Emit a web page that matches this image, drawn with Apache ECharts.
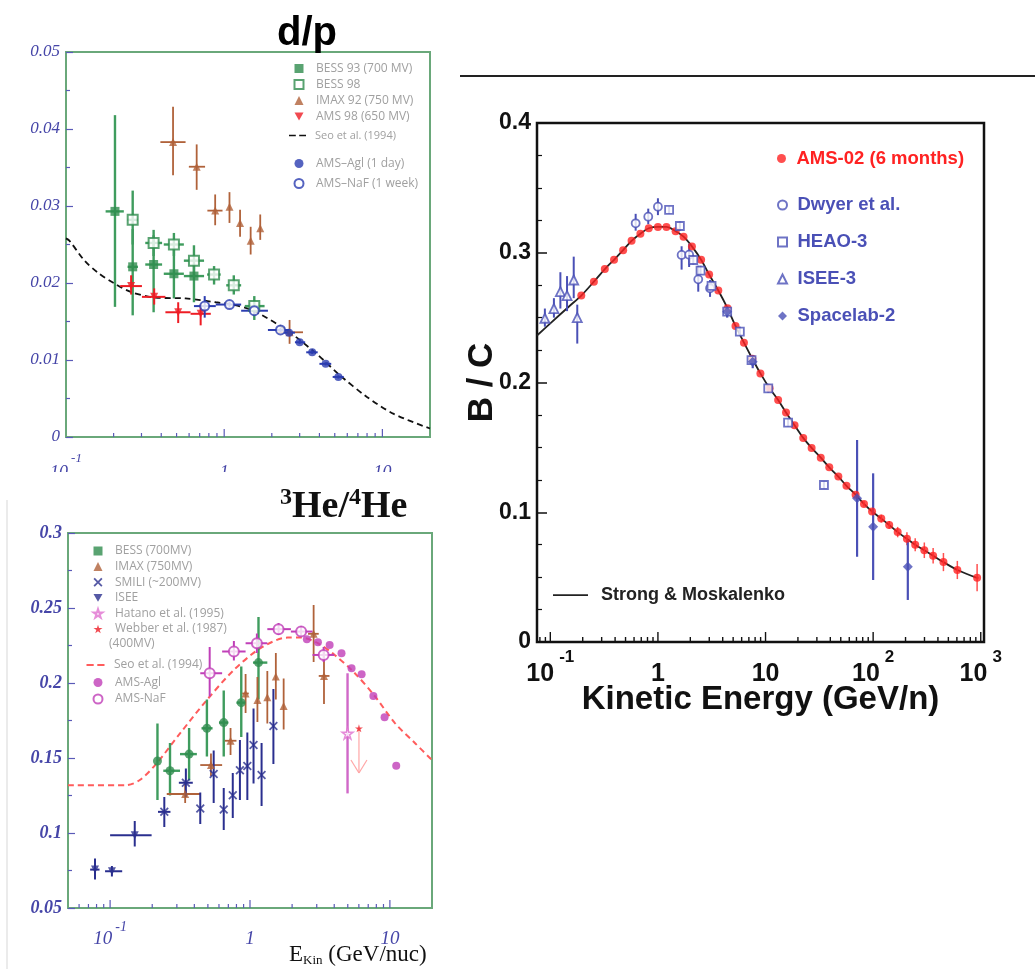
<!DOCTYPE html>
<html>
<head>
<meta charset="utf-8">
<script src="https://cdn.jsdelivr.net/npm/echarts@6.0.0/dist/echarts.min.js"></script>
<style>
html,body{margin:0;padding:0;background:#fff;}
#c{width:1035px;height:969px;}
</style>
</head>
<body>
<div id="c"></div>
<script>
// ===================== DATA =====================
// rows: [E (GeV/n), ratio, errLow, errHigh, Emin, Emax]

// ---- d/p panel ----
const dpBess93 = [
  [0.204, 0.0293, 0.0169, 0.0418, 0.178, 0.232],
  [0.264, 0.0221, 0.0158, 0.0270, 0.245, 0.285],
  [0.358, 0.0224, 0.0162, 0.0262, 0.317, 0.405],
  [0.481, 0.0212, 0.0180, 0.0245, 0.415, 0.556],
  [0.644, 0.0209, 0.0175, 0.0225, 0.556, 0.746]
];
const dpBess98 = [
  [0.264, 0.0282, 0.0250, 0.0320, 0.245, 0.285],
  [0.358, 0.0252, 0.0235, 0.0269, 0.317, 0.405],
  [0.481, 0.0250, 0.0235, 0.0265, 0.415, 0.556],
  [0.644, 0.0229, 0.0210, 0.0249, 0.556, 0.746],
  [0.863, 0.0211, 0.0198, 0.0222, 0.780, 0.950],
  [1.15, 0.0197, 0.0185, 0.0210, 1.03, 1.28],
  [1.55, 0.0170, 0.0152, 0.0183, 1.35, 1.80]
];
const dpImax92 = [
  [0.475, 0.0383, 0.0340, 0.0429, 0.395, 0.570],
  [0.670, 0.0351, 0.0321, 0.0380, 0.598, 0.757],
  [0.877, 0.0294, 0.0275, 0.0315, 0.783, 0.976],
  [1.08, 0.0299, 0.0278, 0.0318, 1.08, 1.08],
  [1.26, 0.0278, 0.0260, 0.0295, 1.26, 1.26],
  [1.47, 0.0255, 0.0237, 0.0273, 1.47, 1.47],
  [1.69, 0.0271, 0.0256, 0.0289, 1.69, 1.69],
  [2.59, 0.0136, 0.0121, 0.0152, 2.19, 3.15]
];
const dpAms98 = [
  [0.258, 0.0196, 0.0185, 0.0210, 0.220, 0.302],
  [0.361, 0.0182, 0.0172, 0.0193, 0.302, 0.425],
  [0.512, 0.0162, 0.0148, 0.0175, 0.425, 0.613],
  [0.710, 0.0160, 0.0145, 0.0172, 0.613, 0.823]
];
const dpAmsNaf = [
  [0.753, 0.0170, 0.0155, 0.0183, 0.644, 0.885],
  [1.08, 0.0172, 0.0168, 0.0176, 0.885, 1.28],
  [1.55, 0.0164, 0.0160, 0.0168, 1.28, 1.89],
  [2.27, 0.0139, 0.0136, 0.0142, 1.89, 2.60]
];
const dpAmsAgl = [
  [2.57, 0.01355, 0.0133, 0.0138, 2.35, 2.80],
  [3.00, 0.0123, 0.0121, 0.0125, 2.80, 3.25],
  [3.60, 0.0110, 0.0108, 0.0112, 3.30, 3.90],
  [4.38, 0.0095, 0.0093, 0.0097, 4.00, 4.75],
  [5.27, 0.0078, 0.0076, 0.0080, 4.85, 5.70]
];
const dpSeoE = [0.1, 0.105, 0.131, 0.16, 0.204, 0.26, 0.367, 0.57, 0.885, 1.13, 1.51, 2.47, 3.84, 5.4, 7.99, 11.8, 20];
const dpSeoR = [0.0258, 0.0255, 0.0229, 0.0213, 0.0199, 0.0188, 0.0181, 0.0180, 0.0175, 0.0172, 0.01645, 0.0139, 0.0108, 0.0080, 0.0052, 0.0030, 0.0011];

// ---- 3He/4He panel ----
const heBess = [
  [0.218, 0.148, 0.122, 0.173, 0.218, 0.218],
  [0.268, 0.1415, 0.125, 0.160, 0.240, 0.316],
  [0.367, 0.1526, 0.135, 0.170, 0.316, 0.417],
  [0.492, 0.1698, 0.151, 0.189, 0.450, 0.540],
  [0.649, 0.1736, 0.151, 0.195, 0.600, 0.700],
  [0.866, 0.1869, 0.164, 0.211, 0.800, 0.930],
  [1.15, 0.2136, 0.189, 0.244, 1.05, 1.33]
];
const heImax = [
  [0.344, 0.126, 0.120, 0.133, 0.254, 0.441],
  [0.526, 0.1453, 0.138, 0.153, 0.441, 0.632],
  [0.726, 0.1615, 0.152, 0.170, 0.660, 0.800],
  [0.93, 0.193, 0.180, 0.206, 0.880, 0.980],
  [1.13, 0.1887, 0.174, 0.204, 1.13, 1.13],
  [1.33, 0.1905, 0.173, 0.208, 1.33, 1.33],
  [1.53, 0.2043, 0.189, 0.220, 1.53, 1.53],
  [1.74, 0.1847, 0.169, 0.203, 1.74, 1.74],
  [2.85, 0.2328, 0.214, 0.252, 2.60, 3.10],
  [3.38, 0.2047, 0.186, 0.222, 3.10, 3.70]
];
const heIsee = [
  [0.078, 0.0756, 0.069, 0.083, 0.072, 0.084],
  [0.103, 0.0745, 0.071, 0.078, 0.092, 0.122],
  [0.150, 0.0985, 0.091, 0.108, 0.100, 0.198]
];
const heSmili = [
  [0.244, 0.1141, 0.104, 0.124, 0.220, 0.270],
  [0.348, 0.1335, 0.124, 0.143, 0.310, 0.390],
  [0.441, 0.1163, 0.106, 0.127, 0.441, 0.441],
  [0.55, 0.1393, 0.120, 0.155, 0.55, 0.55],
  [0.649, 0.1157, 0.102, 0.130, 0.649, 0.649],
  [0.753, 0.1252, 0.110, 0.140, 0.753, 0.753],
  [0.847, 0.1419, 0.122, 0.162, 0.847, 0.847],
  [0.957, 0.1446, 0.122, 0.167, 0.957, 0.957],
  [1.06, 0.1586, 0.133, 0.183, 1.06, 1.06],
  [1.21, 0.1386, 0.118, 0.160, 1.21, 1.21],
  [1.47, 0.1713, 0.146, 0.196, 1.47, 1.47]
];
const heHatano = [[4.98, 0.1664, 0.1264, 0.2065]];
const heWebber = [[6.01, 0.1698, 0.1400]]; // [E, value, upper-limit arrow end]
const heAmsNaf = [
  [0.515, 0.2065, 0.191, 0.224, 0.441, 0.632],
  [0.767, 0.221, 0.215, 0.228, 0.632, 0.930],
  [1.12, 0.2265, 0.220, 0.233, 0.930, 1.33],
  [1.60, 0.2359, 0.232, 0.240, 1.33, 1.96],
  [2.32, 0.2343, 0.231, 0.238, 1.96, 2.80],
  [3.36, 0.2187, 0.214, 0.224, 2.80, 4.00]
];
const heAmsAgl = [
  [2.55, 0.2292], [3.06, 0.2272], [3.71, 0.2254], [4.51, 0.2199], [5.32, 0.2098],
  [6.28, 0.2058], [7.62, 0.1914], [9.16, 0.1771], [11.1, 0.1448]
];
const heSeoE = [0.05, 0.130, 0.163, 0.215, 0.316, 0.492, 0.767, 1.19, 1.86, 2.32, 3.06, 4.03, 5.62, 7.84, 10.9, 15.2, 20];
const heSeoR = [0.1319, 0.1319, 0.1353, 0.1464, 0.1664, 0.1887, 0.2087, 0.2232, 0.2303, 0.2303, 0.2265, 0.2187, 0.2065, 0.191, 0.1731, 0.1597, 0.1486];

// ---- B/C panel ----
const bcAmsE = [0.194, 0.254, 0.321, 0.391, 0.475, 0.569, 0.687, 0.822, 1.0, 1.2, 1.46, 1.73, 2.07, 2.52, 2.99, 3.64, 4.43, 5.26, 6.3, 7.54, 8.96, 10.9, 13.1, 15.5, 18.6, 22.4, 26.8, 32.6, 39.1, 47.5, 56.5, 68.7, 82.2, 97.7, 119, 141, 169, 206, 246, 299, 361, 450, 606, 925];
const bcAmsR = [0.267, 0.2777, 0.2874, 0.2946, 0.302, 0.3092, 0.3147, 0.3189, 0.3199, 0.3199, 0.3166, 0.3124, 0.3049, 0.2946, 0.2832, 0.2709, 0.2573, 0.2436, 0.2307, 0.2183, 0.207, 0.1956, 0.1865, 0.1768, 0.1671, 0.1573, 0.1496, 0.1421, 0.1346, 0.1275, 0.1204, 0.1135, 0.1064, 0.1006, 0.0951, 0.0902, 0.0847, 0.0795, 0.0749, 0.0707, 0.0665, 0.0616, 0.0555, 0.0496];
const bcAmsErr = [0, 0, 0, 0, 0, 0, 0, 0, 0, 0, 0, 0, 0, 0, 0, 0, 0, 0, 0, 0, 0, 0, 0, 0, 0, 0, 0, 0, 0, 0, 0, 0, 0.002, 0.002, 0.003, 0.003, 0.004, 0.005, 0.005, 0.006, 0.006, 0.007, 0.007, 0.0105];
const bcSmE = [0.0752, 0.1, 0.15, 0.194, 0.254, 0.321, 0.391, 0.475, 0.569, 0.687, 0.822, 1.0, 1.2, 1.46, 1.73, 2.07, 2.52, 2.99, 3.64, 4.43, 5.26, 6.3, 7.54, 8.96, 10.9, 13.1, 15.5, 18.6, 22.4, 26.8, 32.6, 39.1, 47.5, 56.5, 68.7, 82.2, 97.7, 119, 141, 169, 206, 246, 299, 361, 450, 606, 950];
const bcSmR = [0.2362, 0.2456, 0.2588, 0.267, 0.2777, 0.2874, 0.2946, 0.302, 0.3092, 0.3147, 0.3189, 0.3199, 0.3199, 0.3166, 0.3124, 0.3049, 0.2946, 0.2832, 0.2709, 0.2573, 0.2436, 0.2307, 0.2183, 0.207, 0.1956, 0.1865, 0.1768, 0.1671, 0.1573, 0.1496, 0.1421, 0.1346, 0.1275, 0.1204, 0.1135, 0.1064, 0.1006, 0.0951, 0.0902, 0.0847, 0.0795, 0.0749, 0.0707, 0.0665, 0.0616, 0.0555, 0.049];
const bcIsee3 = [
  [0.089, 0.2495, 0.243, 0.257],
  [0.108, 0.257, 0.250, 0.265],
  [0.124, 0.270, 0.257, 0.285],
  [0.143, 0.267, 0.255, 0.282],
  [0.165, 0.279, 0.265, 0.297],
  [0.178, 0.250, 0.230, 0.260]
];
const bcDwyer = [
  [0.621, 0.3227, 0.317, 0.330],
  [0.813, 0.3278, 0.322, 0.334],
  [1.0, 0.3355, 0.329, 0.342],
  [1.66, 0.2983, 0.287, 0.305],
  [1.95, 0.2985, 0.289, 0.307],
  [2.37, 0.2795, 0.270, 0.290],
  [3.05, 0.2726, 0.266, 0.279]
];
const bcHeao3 = [
  [1.27, 0.333, 0.330, 0.336],
  [1.6, 0.3206, 0.317, 0.324],
  [2.13, 0.2944, 0.291, 0.298],
  [2.49, 0.2862, 0.283, 0.290],
  [3.15, 0.2744, 0.271, 0.278],
  [4.4, 0.2546, 0.251, 0.258],
  [5.77, 0.2392, 0.236, 0.243],
  [7.41, 0.2173, 0.214, 0.221],
  [10.6, 0.1955, 0.192, 0.199],
  [16.2, 0.169, 0.166, 0.172],
  [34.9, 0.121, 0.118, 0.124]
];
const bcSpacelab2 = [
  [4.4, 0.2546, 0.250, 0.259],
  [7.6, 0.216, 0.211, 0.221],
  [70.9, 0.1107, 0.0657, 0.1557],
  [100, 0.0889, 0.0478, 0.130],
  [210, 0.058, 0.0324, 0.0786]
];

// ===================== STYLE =====================
const SERIF = "'Liberation Serif', 'DejaVu Serif', serif";
const SANS = "'Liberation Sans', Arial, sans-serif";
const LEG = "'Open Sans', 'DejaVu Sans', sans-serif";
const LBL = '#4646a8';
const GREEN = '#2f8c4e', GREEN_E = '#3f9c5e';
const BROWN = '#b0623a';
const RED = '#ee1c24';
const BLUE = '#2b3cb0';
const NAVY = '#2a2f8f';
const MAG = '#c03fb8';
const PINK = '#ff5c5c';
const BC_BLUE = '#4a50b6';
const BC_RED = '#ff2222';
const STAR = 'path://M50,0 L61,35 L98,35 L68,57 L79,91 L50,70 L21,91 L32,57 L2,35 L39,35 Z';
const XMARK = 'path://M0,14 L14,0 L50,36 L86,0 L100,14 L64,50 L100,86 L86,100 L50,64 L14,100 L0,86 L36,50 Z';
const DOWN_TRI = 'path://M0,0 L100,0 L50,87 Z';
const DASH_ICON = 'path://M0,0 L40,0 L40,10 L0,10 Z M60,0 L100,0 L100,10 L60,10 Z';
const LINE_ICON = 'path://M0,0 L100,0 L100,5 L0,5 Z';

// ===================== HELPERS =====================
function pts(arr) { return arr.map(d => [d[0], d[1]]); }
function zip(a, b) { return a.map((v, i) => [v, b[i]]); }

function errBars(gi, arr, color, lw) {
  return {
    type: 'custom', xAxisIndex: gi, yAxisIndex: gi, z: 3, silent: true, clip: false,
    renderItem(params, api) {
      const x = api.value(0), y = api.value(1), lo = api.value(2), hi = api.value(3);
      const xl = api.value(4), xh = api.value(5);
      const ch = [];
      if (hi > lo) {
        const a = api.coord([x, lo]), b = api.coord([x, hi]);
        ch.push({ type: 'line', shape: { x1: a[0], y1: a[1], x2: b[0], y2: b[1] }, style: { stroke: color, lineWidth: lw } });
      }
      if (xh > xl) {
        const a = api.coord([xl, y]), b = api.coord([xh, y]);
        ch.push({ type: 'line', shape: { x1: a[0], y1: a[1], x2: b[0], y2: b[1] }, style: { stroke: color, lineWidth: lw } });
      }
      return { type: 'group', children: ch };
    },
    data: arr.map(d => [d[0], d[1], d.length > 2 ? d[2] : d[1], d.length > 3 ? d[3] : d[1], d.length > 4 ? d[4] : d[0], d.length > 5 ? d[5] : d[0]])
  };
}

function scat(name, gi, arr, symbol, size, itemStyle, extra) {
  return Object.assign({
    type: 'scatter', name, xAxisIndex: gi, yAxisIndex: gi, symbol, symbolSize: size,
    itemStyle, z: 5, silent: true, data: pts(arr)
  }, extra || {});
}

function logTicks(gi, min, max, yBase, color, lenMajor, lenMinor, lw) {
  const data = [];
  for (let e = Math.floor(Math.log10(min)); e <= Math.ceil(Math.log10(max)); e++) {
    for (let m = 1; m <= 9; m++) {
      const v = m * Math.pow(10, e);
      if (v > min * 1.0001 && v < max * 0.9999) data.push([v, yBase, m === 1 ? 1 : 0]);
    }
  }
  return {
    type: 'custom', xAxisIndex: gi, yAxisIndex: gi, silent: true, z: 4, clip: false,
    renderItem(params, api) {
      const p = api.coord([api.value(0), api.value(1)]);
      const L = api.value(2) ? lenMajor : lenMinor;
      return { type: 'line', shape: { x1: p[0], y1: p[1], x2: p[0], y2: p[1] - L }, style: { stroke: color, lineWidth: lw } };
    },
    data
  };
}

function logLabel(v) {
  const lg = Math.log10(v);
  const e = Math.round(lg);
  if (Math.abs(lg - e) > 1e-6) return '';
  if (e === 0) return '{b|1}';
  if (e === 1) return '{b|10}';
  return '{b|10}{s|' + e + '}';
}

// ===================== OPTION =====================
const chart = echarts.init(document.getElementById('c'), null, { renderer: 'canvas', width: 1035, height: 969 });

const leftYLabel = { color: LBL, fontFamily: SERIF, fontStyle: 'italic', fontSize: 17, margin: 6 };
const grayLeg = { color: '#a0a0a0', fontFamily: LEG, fontSize: 12, lineHeight: 13 };

const option = {
  animation: false,
  backgroundColor: '#fff',
  title: [
    { text: 'd/p', left: 277, top: 14, padding: 0,
      textStyle: { fontFamily: SANS, fontSize: 40, fontWeight: 'bold', color: '#000' } },
    { text: '{s|3}{h|He/}{s|4}{h|He}', left: 280, top: 486, padding: 0,
      textStyle: { rich: {
        s: { fontFamily: SERIF, fontSize: 24, lineHeight: 16, verticalAlign: 'top', color: '#111' },
        h: { fontFamily: SERIF, fontSize: 38, lineHeight: 40, verticalAlign: 'bottom', color: '#111' }
      } } }
  ],
  grid: [
    { left: 66, top: 52, width: 364, height: 385, show: true, borderColor: '#6aa87a', borderWidth: 2, backgroundColor: '#fff', containLabel: false, outerBoundsMode: 'none' },
    { left: 68, top: 533, width: 364, height: 375, show: true, borderColor: '#6aa87a', borderWidth: 2, backgroundColor: '#fff', containLabel: false, outerBoundsMode: 'none' },
    { left: 537, top: 123, width: 447, height: 519, show: true, borderColor: '#111', borderWidth: 2.5, backgroundColor: '#fff', containLabel: false, outerBoundsMode: 'none' }
  ],
  xAxis: [
    { gridIndex: 0, type: 'log', logBase: 10, min: 0.1, max: 20,
      axisLine: { show: false }, axisTick: { show: false }, splitLine: { show: false },
      axisLabel: { formatter: logLabel, margin: 15, rich: {
        b: { fontFamily: SERIF, fontStyle: 'italic', fontSize: 18, color: LBL, lineHeight: 30, verticalAlign: 'bottom' },
        s: { fontFamily: SERIF, fontStyle: 'italic', fontSize: 13, color: LBL, lineHeight: 10, verticalAlign: 'top', padding: [0, 0, 0, 3] }
      } } },
    { gridIndex: 1, type: 'log', logBase: 10, min: 0.05, max: 20,
      axisLine: { show: false }, axisTick: { show: false }, splitLine: { show: false },
      axisLabel: { formatter: logLabel, margin: 12, rich: {
        b: { fontFamily: SERIF, fontStyle: 'italic', fontSize: 19, color: LBL, lineHeight: 28, verticalAlign: 'bottom' },
        s: { fontFamily: SERIF, fontStyle: 'italic', fontSize: 14, color: LBL, lineHeight: 10, verticalAlign: 'top', padding: [0, 0, 0, 3] }
      } } },
    { gridIndex: 2, type: 'log', logBase: 10, min: 0.0752, max: 1072,
      axisLine: { show: false }, axisTick: { show: false }, splitLine: { show: false },
      name: 'Kinetic Energy (GeV/n)', nameLocation: 'middle', nameGap: 41, nameMoveOverlap: false,
      nameTextStyle: { fontFamily: SANS, fontSize: 33, fontWeight: 'bold', color: '#111' },
      axisLabel: { formatter: logLabel, margin: 1, rich: {
        b: { fontFamily: SANS, fontWeight: 'bold', fontSize: 25, color: '#111', lineHeight: 44, verticalAlign: 'bottom' },
        s: { fontFamily: SANS, fontWeight: 'bold', fontSize: 17, color: '#111', lineHeight: 20, verticalAlign: 'top', padding: [6, 0, 0, 5] }
      } } }
  ],
  yAxis: [
    { gridIndex: 0, type: 'value', min: 0, max: 0.05, interval: 0.01,
      axisLine: { show: false }, splitLine: { show: false },
      axisTick: { show: true, inside: true, length: 7, lineStyle: { color: '#5a5ab8', width: 1.2 } },
      minorTick: { show: true, splitNumber: 2, length: 4, lineStyle: { color: '#5a5ab8', width: 1.2 } },
      axisLabel: Object.assign({ formatter: v => v === 0 ? '0' : v.toFixed(2) }, leftYLabel) },
    { gridIndex: 1, type: 'value', min: 0.05, max: 0.3, interval: 0.05,
      axisLine: { show: false }, splitLine: { show: false },
      axisTick: { show: true, inside: true, length: 7, lineStyle: { color: '#5a5ab8', width: 1.2 } },
      minorTick: { show: true, splitNumber: 2, length: 4, lineStyle: { color: '#5a5ab8', width: 1.2 } },
      axisLabel: Object.assign({ formatter: v => String(+v.toFixed(2)) }, leftYLabel, { fontSize: 18, fontWeight: 'bold' }) },
    { gridIndex: 2, type: 'value', min: 0, max: 0.4, interval: 0.1,
      axisLine: { show: false }, splitLine: { show: false },
      name: 'B / C', nameLocation: 'middle', nameGap: 37, nameRotate: 90, nameMoveOverlap: false,
      nameTextStyle: { fontFamily: SANS, fontSize: 35, fontWeight: 'bold', color: '#111' },
      axisTick: { show: true, inside: true, length: 10, lineStyle: { color: '#111', width: 1.5 } },
      minorTick: { show: true, splitNumber: 4, length: 5, lineStyle: { color: '#111', width: 1.2 } },
      axisLabel: { formatter: v => v === 0 ? '0' : String(+v.toFixed(1)), fontFamily: SANS, fontWeight: 'bold', fontSize: 23, color: '#111', margin: 6 } }
  ],
  legend: [
    { left: 288.5, top: 57, orient: 'vertical', itemWidth: 9, itemHeight: 9, itemGap: 3, selectedMode: false,
      textStyle: Object.assign({ padding: [0, 0, 0, 7.5] }, grayLeg),
      data: ['BESS 93 (700 MV)', 'BESS 98', 'IMAX 92 (750 MV)', { name: 'AMS 98 (650 MV)', icon: DOWN_TRI }] },
    { left: 284, top: 124, orient: 'vertical', itemWidth: 17, itemHeight: 9, selectedMode: false,
      textStyle: Object.assign({ padding: [0, 0, 0, 4] }, grayLeg, { fontSize: 11 }),
      data: [{ name: 'Seo et al. (1994)', icon: DASH_ICON }] },
    { left: 288.5, top: 152, orient: 'vertical', itemWidth: 9, itemHeight: 9, itemGap: 7, selectedMode: false,
      textStyle: Object.assign({ padding: [0, 0, 0, 7.5] }, grayLeg),
      data: ['AMS–Agl (1 day)', 'AMS–NaF (1 week)'] },
    { left: 87.5, top: 539.5, orient: 'vertical', itemWidth: 9, itemHeight: 9, itemGap: 2.6, selectedMode: false,
      textStyle: Object.assign({ padding: [0, 0, 0, 7.5] }, grayLeg),
      data: [{ name: 'BESS (700MV)', icon: 'rect' }, 'IMAX (750MV)', 'SMILI (~200MV)', { name: 'ISEE', icon: DOWN_TRI }, 'Hatano et al. (1995)', 'Webber et al. (1987)'] },
    { left: 81.5, top: 653.5, orient: 'vertical', itemWidth: 18, itemHeight: 9, selectedMode: false,
      textStyle: Object.assign({ padding: [0, 0, 0, 4.5] }, grayLeg),
      data: [{ name: 'Seo et al. (1994) ', icon: DASH_ICON }] },
    { left: 87.5, top: 671, orient: 'vertical', itemWidth: 9, itemHeight: 9, itemGap: 3.5, selectedMode: false,
      textStyle: Object.assign({ padding: [0, 0, 0, 7.5] }, grayLeg),
      data: ['AMS-Agl', 'AMS-NaF'] },
    { left: 772, top: 144, orient: 'vertical', itemWidth: 9, itemHeight: 9, selectedMode: false,
      textStyle: { color: BC_RED, fontFamily: SANS, fontWeight: 'bold', fontSize: 18.5, padding: [0, 0, 0, 5.5] },
      data: ['AMS-02 (6 months)'] },
    { left: 772, top: 190.5, orient: 'vertical', itemWidth: 9, itemHeight: 9, itemGap: 18, selectedMode: false,
      textStyle: { color: BC_BLUE, fontFamily: SANS, fontWeight: 'bold', fontSize: 18.5, padding: [0, 0, 0, 5.5] },
      data: ['Dwyer et al.', 'HEAO-3', 'ISEE-3', 'Spacelab-2'] },
    { left: 548, top: 581, orient: 'vertical', itemWidth: 35, itemHeight: 10, selectedMode: false,
      textStyle: { color: '#222', fontFamily: SANS, fontWeight: 'bold', fontSize: 18, padding: [0, 0, 0, 8] },
      data: [{ name: 'Strong & Moskalenko', icon: LINE_ICON }] }
  ],
  graphic: [
    { type: 'line', shape: { x1: 460, y1: 76, x2: 1035, y2: 76 }, style: { stroke: '#222', lineWidth: 2 } },
    { type: 'line', shape: { x1: 7, y1: 500, x2: 7, y2: 969 }, style: { stroke: '#e4e4e4', lineWidth: 1.5 } },
    { type: 'rect', shape: { x: 0, y: 472, width: 445, height: 9 }, style: { fill: '#fff' }, z: 100 },
    { type: 'text', left: 109, top: 638, style: { text: '(400MV)', fill: '#a0a0a0', fontFamily: LEG, fontSize: 12 } },
    { type: 'text', left: 289, top: 943, z: 100, style: {
        text: '{e|E}{k|Kin}{e| (GeV/nuc)}',
        rich: {
          e: { fontFamily: SERIF, fontSize: 23, lineHeight: 24, verticalAlign: 'top', fill: '#111', color: '#111' },
          k: { fontFamily: SERIF, fontSize: 13, lineHeight: 7, verticalAlign: 'bottom', fill: '#111', color: '#111' }
        } } }
  ],
  series: [
    // ---------- d/p ----------
    logTicks(0, 0.1, 20, 0, '#5a5ab8', 8, 4, 1.2),
    { type: 'line', name: 'Seo et al. (1994)', xAxisIndex: 0, yAxisIndex: 0, data: zip(dpSeoE, dpSeoR),
      smooth: 0.3, symbol: 'none', showSymbol: false, z: 2, silent: true,
      lineStyle: { color: '#111', width: 1.8, type: [6, 4] }, itemStyle: { color: '#111' } },
    errBars(0, dpBess93, GREEN_E, 2.4),
    errBars(0, dpBess98, GREEN_E, 2.4),
    errBars(0, dpImax92, BROWN, 1.8),
    errBars(0, dpAms98, RED, 2),
    errBars(0, dpAmsNaf, BLUE, 2),
    errBars(0, dpAmsAgl, BLUE, 2),
    scat('BESS 93 (700 MV)', 0, dpBess93, 'rect', 9, { color: GREEN }),
    scat('BESS 98', 0, dpBess98, 'rect', 10, { color: '#fff', borderColor: GREEN, borderWidth: 2 }),
    scat('IMAX 92 (750 MV)', 0, dpImax92, 'triangle', 8, { color: BROWN }),
    scat('AMS 98 (650 MV)', 0, dpAms98, 'triangle', 8, { color: RED }, { symbolRotate: 180 }),
    scat('AMS–Agl (1 day)', 0, dpAmsAgl, 'circle', 8, { color: BLUE }),
    scat('AMS–NaF (1 week)', 0, dpAmsNaf, 'circle', 9, { color: '#fff', borderColor: BLUE, borderWidth: 2 }),

    // ---------- 3He/4He ----------
    logTicks(1, 0.05, 20, 0.05, '#5a5ab8', 8, 4, 1.2),
    { type: 'line', name: 'Seo et al. (1994) ', xAxisIndex: 1, yAxisIndex: 1, data: zip(heSeoE, heSeoR),
      smooth: 0.3, symbol: 'none', showSymbol: false, z: 2, silent: true,
      lineStyle: { color: PINK, width: 2, type: [6, 4] }, itemStyle: { color: PINK } },
    errBars(1, heBess, GREEN_E, 2.4),
    errBars(1, heImax, BROWN, 1.8),
    errBars(1, heIsee, NAVY, 2),
    errBars(1, heSmili, NAVY, 2),
    errBars(1, heHatano, '#d068c8', 2.4),
    errBars(1, heAmsNaf, MAG, 2),
    {
      type: 'custom', xAxisIndex: 1, yAxisIndex: 1, z: 3, silent: true, clip: false,
      renderItem(params, api) {
        const a = api.coord([api.value(0), api.value(1)]);
        const b = api.coord([api.value(0), api.value(2)]);
        const st = { stroke: '#ffa6a6', lineWidth: 1.2 };
        return { type: 'group', children: [
          { type: 'line', shape: { x1: a[0], y1: a[1], x2: b[0], y2: b[1] }, style: st },
          { type: 'line', shape: { x1: b[0] - 8, y1: b[1] - 13, x2: b[0], y2: b[1] }, style: st },
          { type: 'line', shape: { x1: b[0] + 8, y1: b[1] - 13, x2: b[0], y2: b[1] }, style: st }
        ] };
      },
      data: heWebber
    },
    scat('BESS (700MV)', 1, heBess, 'circle', 9, { color: GREEN }),
    scat('IMAX (750MV)', 1, heImax, 'triangle', 8, { color: BROWN }),
    scat('SMILI (~200MV)', 1, heSmili, XMARK, 9, { color: NAVY }),
    scat('ISEE', 1, heIsee, 'triangle', 8, { color: NAVY }, { symbolRotate: 180 }),
    scat('Hatano et al. (1995)', 1, heHatano, STAR, 11, { color: '#fff', borderColor: '#e070d0', borderWidth: 1.5 }),
    scat('Webber et al. (1987)', 1, heWebber, STAR, 8, { color: RED }),
    scat('AMS-Agl', 1, heAmsAgl, 'circle', 8, { color: MAG }),
    scat('AMS-NaF', 1, heAmsNaf, 'circle', 10, { color: '#fff', borderColor: MAG, borderWidth: 2 }),

    // ---------- B/C ----------
    logTicks(2, 0.0752, 1072, 0, '#111', 10, 5, 1.4),
    { type: 'line', name: 'Strong & Moskalenko', xAxisIndex: 2, yAxisIndex: 2, data: zip(bcSmE, bcSmR),
      smooth: 0.3, symbol: 'none', showSymbol: false, z: 2, silent: true,
      lineStyle: { color: '#222', width: 1.8 }, itemStyle: { color: '#222' } },
    errBars(2, bcAmsE.map((e, i) => [e, bcAmsR[i], bcAmsR[i] - bcAmsErr[i], bcAmsR[i] + bcAmsErr[i]]), '#ff5050', 1.5),
    errBars(2, bcIsee3, BC_BLUE, 2),
    errBars(2, bcDwyer, BC_BLUE, 2),
    errBars(2, bcHeao3, BC_BLUE, 2),
    errBars(2, bcSpacelab2, BC_BLUE, 2.2),
    scat('AMS-02 (6 months)', 2, zip(bcAmsE, bcAmsR), 'circle', 8, { color: BC_RED }),
    scat('Dwyer et al.', 2, bcDwyer, 'circle', 8, { color: '#fff', borderColor: BC_BLUE, borderWidth: 1.8 }),
    scat('HEAO-3', 2, bcHeao3, 'rect', 8, { color: '#fff', borderColor: BC_BLUE, borderWidth: 1.8 }),
    scat('ISEE-3', 2, bcIsee3, 'triangle', 9, { color: '#fff', borderColor: BC_BLUE, borderWidth: 1.8 }),
    scat('Spacelab-2', 2, bcSpacelab2, 'diamond', 10, { color: BC_BLUE })
  ]
};
chart.setOption(option);
</script>
</body>
</html>
